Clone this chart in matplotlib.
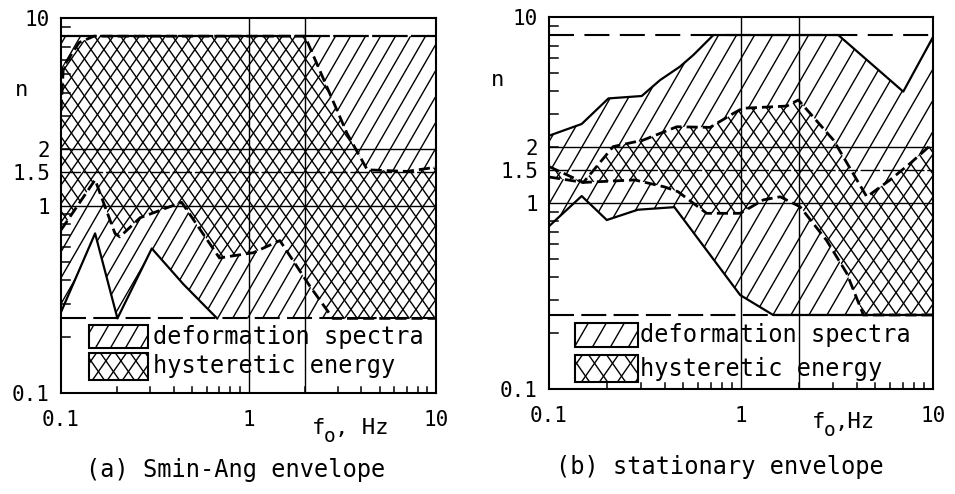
import numpy as np
import matplotlib
matplotlib.use("Agg")
import matplotlib.pyplot as plt
from matplotlib.patches import Polygon, Rectangle
from matplotlib.collections import LineCollection
from matplotlib.transforms import blended_transform_factory

plt.rcParams['font.family'] = ['DejaVu Sans Mono', 'DejaVu Sans']

FIG_W, FIG_H = 955, 494

# ---- data (f in Hz, n) ----
n_top = 8.0
n_floor = 0.25
grid_n = [1.0, 1.5, 2.0]
grid_f = [1.0, 2.0]

# (a) Smin-Ang envelope
a_def_lower_f = [0.1, 0.152, 0.2, 0.305, 0.45, 0.68]
a_def_lower_n = [0.27, 0.71, 0.25, 0.59, 0.38, 0.25]
a_hys_upper_f = [0.1, 0.103, 0.125, 0.15, 2.0, 3.35, 4.3, 7.0, 10.0]
a_hys_upper_n = [3.2, 5.5, 7.4, 8.0, 8.0, 2.43, 1.55, 1.52, 1.6]
a_hys_lower_f = [0.1, 0.152, 0.194, 0.206, 0.264, 0.44, 0.70, 1.06, 1.47, 2.13, 2.82, 10.0]
a_hys_lower_n = [0.74, 1.37, 0.71, 0.68, 0.86, 1.04, 0.525, 0.56, 0.65, 0.37, 0.25, 0.25]

# (b) stationary envelope
b_def_upper_f = [0.1, 0.148, 0.204, 0.304, 0.379, 0.481, 0.565, 0.718, 3.21, 7.0, 10.0]
b_def_upper_n = [2.3, 2.66, 3.65, 3.76, 4.58, 5.41, 6.25, 8.0, 8.0, 3.97, 7.8]
b_def_lower_f = [0.1, 0.148, 0.2, 0.29, 0.45, 0.99, 1.47, 10.0]
b_def_lower_n = [0.75, 1.09, 0.81, 0.92, 0.95, 0.32, 0.25, 0.25]
b_hys_upper_f = [0.1, 0.151, 0.216, 0.31, 0.463, 0.69, 0.912, 1.02, 1.73, 1.99,
                 3.03, 4.52, 5.97, 7.59, 10.0]
b_hys_upper_n = [1.57, 1.29, 2.01, 2.18, 2.57, 2.55, 3.03, 3.23, 3.32, 3.58,
                 2.18, 1.08, 1.33, 1.63, 2.1]
b_hys_lower_f = [0.1, 0.151, 0.28, 0.40, 0.47, 0.663, 0.99, 1.31, 1.6, 2.03,
                 2.79, 3.55, 4.34, 10.0]
b_hys_lower_n = [1.38, 1.29, 1.33, 1.22, 1.15, 0.88, 0.88, 1.04, 1.08, 0.955,
                 0.63, 0.42, 0.25, 0.25]

ytick_vals = [0.1, 1, 1.5, 2, 10]
ytick_labels = ['0.1', '1', '1.5', '2', '10']
xtick_vals = [0.1, 1, 10]
xtick_labels = ['0.1', '1', '10']
minor_vals = [0.2, 0.3, 0.4, 0.5, 0.6, 0.7, 0.8, 0.9, 2, 3, 4, 5, 6, 7, 8, 9]
legend_labels = ['deformation spectra', 'hysteretic energy']


def axes_px(ax):
    bb = ax.get_position()
    return bb.width * FIG_W, bb.height * FIG_H


def hatch(ax, patch, angles, step_px, lw=1.0, z=2):
    # straight parallel lines (in pixels) clipped to a patch
    W, H = axes_px(ax)
    segs = []
    for ang in angles:
        t = np.tan(np.radians(ang))
        reach = H / abs(t)
        for c in np.arange(-reach - 2 * step_px, W + reach + 2 * step_px, step_px):
            y0, y1 = -0.1 * H, 1.1 * H
            segs.append([((c + y0 / t) / W, y0 / H), ((c + y1 / t) / W, y1 / H)])
    lc = LineCollection(segs, transform=ax.transAxes, colors='black',
                        linewidths=lw, zorder=z)
    ax.add_collection(lc, autolim=False)
    lc.set_clip_path(patch)


def region(ax, f_top, n_top_, f_bot, n_bot):
    verts = list(zip(f_top, n_top_)) + list(zip(f_bot[::-1], n_bot[::-1]))
    return Polygon(verts, closed=True, transform=ax.transData)


def setup(ax):
    ax.set_xscale('log')
    ax.set_yscale('log')
    ax.set_xlim(0.1, 10)
    ax.set_ylim(0.1, 10)
    ax.set_yticks(ytick_vals)
    ax.set_yticklabels(ytick_labels, fontsize=15)
    ax.set_xticks(xtick_vals)
    ax.set_xticklabels(xtick_labels, fontsize=15)
    ax.minorticks_off()
    ax.tick_params(which='major', length=0)
    ax.tick_params(axis='y', which='major', pad=8)
    ax.tick_params(axis='x', which='major', pad=12)
    for s in ax.spines.values():
        s.set_linewidth(1.5)
    # inward minor ticks drawn by hand
    W, H = axes_px(ax)
    ty = blended_transform_factory(ax.transAxes, ax.transData)
    tx = blended_transform_factory(ax.transData, ax.transAxes)
    for v in minor_vals:
        ax.plot([0, 9 / W], [v, v], transform=ty, color='black', lw=1.1, zorder=6)
        ax.plot([v, v], [0, 6 / H], transform=tx, color='black', lw=1.1, zorder=6)
    for g in grid_n:
        ax.axhline(g, color='black', lw=1.0, zorder=4,
                   dashes=(14, 2) if g == 1.5 else (None, None))
    for g in grid_f:
        ax.axvline(g, color='black', lw=1.0, zorder=4)


def legend(ax, x0, x1, rows, text_x, step):
    for (y0, y1), lab, cross in zip(rows, legend_labels, [False, True]):
        r = Rectangle((x0, y0), x1 - x0, y1 - y0, transform=ax.transAxes,
                      facecolor='white', edgecolor='black', lw=1.5, zorder=6)
        ax.add_patch(r)
        hatch(ax, r, [55, -55] if cross else [60], step, z=7)
        ax.text(text_x, (y0 + y1) / 2, lab, transform=ax.transAxes,
                fontsize=17, va='center', ha='left', zorder=8)


fig = plt.figure(figsize=(9.55, 4.94), dpi=100)
ax_a = fig.add_axes([61 / FIG_W, 1 - 393 / FIG_H, 375 / FIG_W, 375 / FIG_H])
ax_b = fig.add_axes([549 / FIG_W, 1 - 389 / FIG_H, 384 / FIG_W, 372 / FIG_H])

# ---- panel (a) ----
ax = ax_a
setup(ax)
def_a = region(ax, [0.1, 10], [n_top, n_top], a_def_lower_f + [10.0],
               a_def_lower_n + [n_floor])
ax.add_patch(def_a)
def_a.set_facecolor('none'); def_a.set_edgecolor('none')
hatch(ax, def_a, [60], 15, z=1)
hys_a = region(ax, a_hys_upper_f, a_hys_upper_n, a_hys_lower_f, a_hys_lower_n)
ax.add_patch(hys_a)
hys_a.set_facecolor('white'); hys_a.set_edgecolor('none'); hys_a.set_zorder(2)
hatch(ax, hys_a, [55, -55], 13, z=3)
ax.axhline(n_top, color='black', lw=1.6, dashes=(16, 1.5), zorder=5)
ax.axhline(n_floor, color='black', lw=1.5, dashes=(12, 3.5), zorder=5)
ax.plot(a_def_lower_f, a_def_lower_n, color='black', lw=1.6, zorder=5)
ax.plot(a_hys_upper_f, a_hys_upper_n, color='black', lw=2.0, dashes=(4, 1.8), zorder=5)
ax.plot(a_hys_lower_f, a_hys_lower_n, color='black', lw=2.0, dashes=(4, 1.8), zorder=5)
legend(ax, 0.075, 0.232, [(0.12, 0.181), (0.035, 0.107)], 0.245, 15)
ax.set_xlim(0.1, 10); ax.set_ylim(0.1, 10)

# ---- panel (b) ----
ax = ax_b
setup(ax)
def_b = region(ax, b_def_upper_f, b_def_upper_n, b_def_lower_f, b_def_lower_n)
ax.add_patch(def_b)
def_b.set_facecolor('none'); def_b.set_edgecolor('none')
hatch(ax, def_b, [60], 18, z=1)
hys_b = region(ax, b_hys_upper_f, b_hys_upper_n, b_hys_lower_f, b_hys_lower_n)
ax.add_patch(hys_b)
hys_b.set_facecolor('white'); hys_b.set_edgecolor('none'); hys_b.set_zorder(2)
hatch(ax, hys_b, [55, -55], 15, z=3)
ax.axhline(n_top, color='black', lw=1.5, dashes=(12, 5), zorder=5)
ax.axhline(n_floor, color='black', lw=1.5, dashes=(12, 3.5), zorder=5)
ax.plot(b_def_upper_f, b_def_upper_n, color='black', lw=1.6, zorder=5)
ax.plot(b_def_lower_f, b_def_lower_n, color='black', lw=1.6, zorder=5)
ax.plot(b_hys_upper_f, b_hys_upper_n, color='black', lw=2.0, dashes=(4, 1.8), zorder=5)
ax.plot(b_hys_lower_f, b_hys_lower_n, color='black', lw=2.0, dashes=(4, 1.8), zorder=5)
legend(ax, 0.068, 0.232, [(0.113, 0.177), (0.019, 0.091)], 0.237, 18)
ax.set_xlim(0.1, 10); ax.set_ylim(0.1, 10)


# ---- free text ----
def ftext(x, y, s, ha='center', **kw):
    fig.text(x / FIG_W, 1 - y / FIG_H, s, ha=ha, va='center', **kw)


ftext(22, 90, 'n', fontsize=16)
ftext(498, 80, 'n', fontsize=16)
# f_o, Hz (a)
ftext(312, 428, 'f', ha='left', fontsize=16)
ftext(324, 436, 'o', ha='left', fontsize=14)
ftext(335, 428, ', Hz', ha='left', fontsize=16)
# f_o,Hz (b)
ftext(812, 422, 'f', ha='left', fontsize=16)
ftext(824, 430, 'o', ha='left', fontsize=14)
ftext(835, 422, ',Hz', ha='left', fontsize=16)
ftext(236, 470, '(a) Smin-Ang envelope', fontsize=17)
ftext(720, 467, '(b) stationary envelope', fontsize=17)

fig.savefig('out.png', dpi=100)
